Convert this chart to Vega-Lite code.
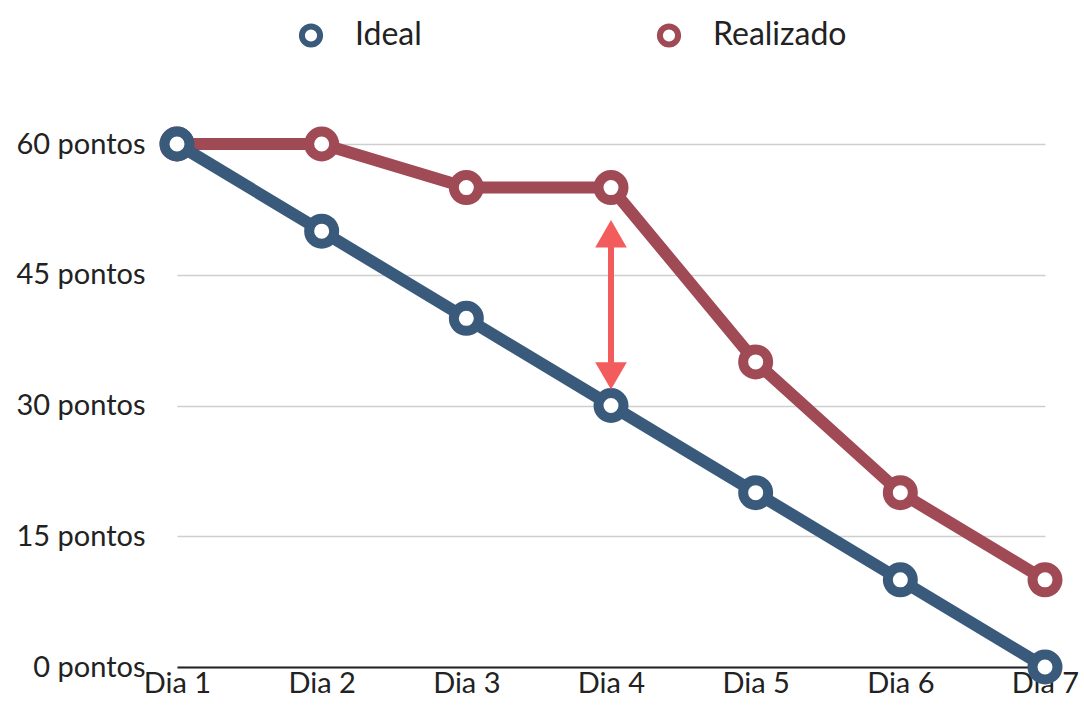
{
  "$schema": "https://vega.github.io/schema/vega-lite/v6.json",
  "width": 868,
  "height": 523,
  "autosize": {"type": "none"},
  "padding": {"left": 177, "top": 144, "right": 39, "bottom": 60},
  "background": "white",
  "config": {
    "view": {"stroke": null},
    "font": "Lato",
    "legend": {
      "symbolType": "circle",
      "symbolFillColor": "white",
      "symbolStrokeWidth": 6,
      "symbolSize": 330,
      "labelFontSize": 32,
      "labelColor": "#222222",
      "labelFont": "Lato"
    }
  },
  "datasets": {
    "serie": [
      {"dia": "Dia 1", "serie": "Realizado", "pontos": 60},
      {"dia": "Dia 2", "serie": "Realizado", "pontos": 60},
      {"dia": "Dia 3", "serie": "Realizado", "pontos": 55},
      {"dia": "Dia 4", "serie": "Realizado", "pontos": 55},
      {"dia": "Dia 5", "serie": "Realizado", "pontos": 35},
      {"dia": "Dia 6", "serie": "Realizado", "pontos": 20},
      {"dia": "Dia 7", "serie": "Realizado", "pontos": 10},
      {"dia": "Dia 1", "serie": "Ideal", "pontos": 60},
      {"dia": "Dia 2", "serie": "Ideal", "pontos": 50},
      {"dia": "Dia 3", "serie": "Ideal", "pontos": 40},
      {"dia": "Dia 4", "serie": "Ideal", "pontos": 30},
      {"dia": "Dia 5", "serie": "Ideal", "pontos": 20},
      {"dia": "Dia 6", "serie": "Ideal", "pontos": 10},
      {"dia": "Dia 7", "serie": "Ideal", "pontos": 0}
    ],
    "seta": [
      {"dia": "Dia 4", "inicio": 34.5, "fim": 48.5}
    ],
    "pontas": [
      {"dia": "Dia 4", "pontos": 49.7, "forma": "triangle-up"},
      {"dia": "Dia 4", "pontos": 33.4, "forma": "triangle-down"}
    ]
  },
  "layer": [
    {
      "data": {"name": "serie"},
      "mark": {"type": "line", "strokeWidth": 12, "strokeCap": "round", "strokeJoin": "round"},
      "encoding": {
        "x": {
          "field": "dia", "type": "ordinal",
          "scale": {"type": "point", "padding": 0},
          "axis": {
            "title": null, "labelAngle": 0, "ticks": false,
            "domainColor": "#222222", "domainWidth": 2,
            "labelFontSize": 29, "labelColor": "#222222", "labelPadding": 2,
            "labelFont": "Lato"
          }
        },
        "y": {
          "field": "pontos", "type": "quantitative",
          "scale": {"domain": [0, 60], "nice": false},
          "axis": {
            "title": null, "values": [0, 15, 30, 45, 60],
            "labelExpr": "datum.value + ' pontos'",
            "domain": false, "ticks": false,
            "gridColor": "#cfcfcf", "gridWidth": 1.5,
            "labelFontSize": 29, "labelColor": "#222222", "labelPadding": 32,
            "labelFont": "Lato"
          }
        },
        "color": {
          "field": "serie", "type": "nominal",
          "scale": {"domain": ["Ideal", "Realizado"], "range": ["#3a5a7c", "#a04a55"]},
          "legend": {
            "title": null, "orient": "none", "direction": "horizontal",
            "legendX": 118, "legendY": -125, "columnPadding": 225, "labelOffset": 28
          }
        },
        "detail": {"field": "serie"}
      }
    },
    {
      "data": {"name": "serie"},
      "mark": {"type": "point", "shape": "circle", "filled": false, "fill": "white", "fillOpacity": 1, "strokeWidth": 10, "size": 625, "opacity": 1},
      "encoding": {
        "x": {"field": "dia", "type": "ordinal"},
        "y": {"field": "pontos", "type": "quantitative"},
        "color": {
          "field": "serie", "type": "nominal",
          "legend": {
            "title": null, "orient": "none", "direction": "horizontal",
            "legendX": 118, "legendY": -125, "columnPadding": 225, "labelOffset": 28
          }
        }
      }
    },
    {
      "data": {"name": "seta"},
      "mark": {"type": "rule", "color": "#f25c5c", "strokeWidth": 6},
      "encoding": {
        "x": {"field": "dia", "type": "ordinal"},
        "y": {"field": "inicio", "type": "quantitative"},
        "y2": {"field": "fim"}
      }
    },
    {
      "data": {"name": "pontas"},
      "mark": {"type": "point", "filled": true, "color": "#f25c5c", "opacity": 1, "size": 1000},
      "encoding": {
        "x": {"field": "dia", "type": "ordinal"},
        "y": {"field": "pontos", "type": "quantitative"},
        "shape": {"field": "forma", "type": "nominal", "scale": null, "legend": null}
      }
    }
  ]
}
